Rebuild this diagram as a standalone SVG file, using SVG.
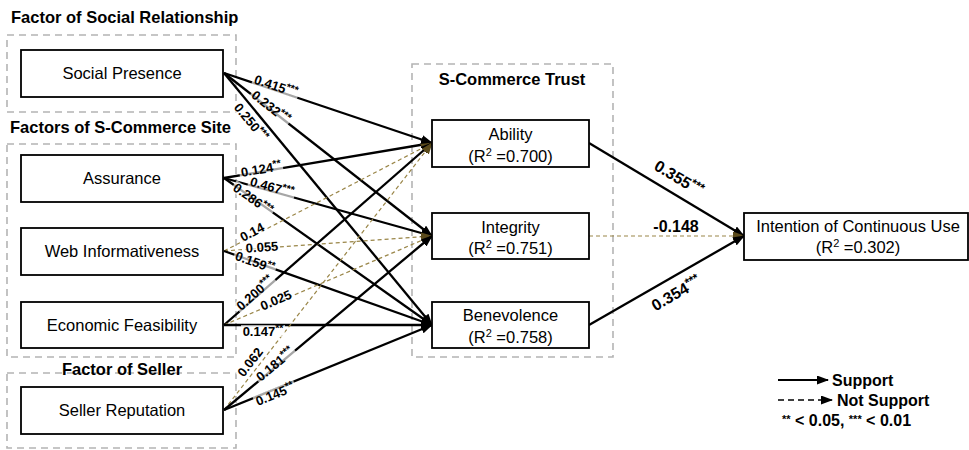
<svg xmlns="http://www.w3.org/2000/svg" width="969" height="450" viewBox="0 0 969 450">
<style>
text{font-family:"Liberation Sans",Arial,sans-serif;fill:#000}
.title{font-size:16.5px;font-weight:bold}
.node{fill:#fff;stroke:#000;stroke-width:1.8}
.nt{font-size:16.5px;text-anchor:middle}
.grp{fill:none;stroke:#b4b4b4;stroke-width:1.6;stroke-dasharray:7,5}
.sol{fill:none;stroke:#000;stroke-width:2.3;marker-end:url(#ah)}
.dsh{fill:none;stroke:#9a8648;stroke-width:1.2;stroke-dasharray:4,3;marker-end:url(#ahd)}
.lbl{font-size:13px;font-weight:bold;text-anchor:middle}
.st{font-size:10.5px}
.lbg{fill:#fff;fill-opacity:0.65}
.big{font-size:16px;font-weight:bold;text-anchor:middle}
.leg{font-size:16px;font-weight:bold}
</style>
<defs>
<marker id="ah" viewBox="0 0 12 9" refX="11" refY="4.5" markerWidth="12" markerHeight="9" markerUnits="userSpaceOnUse" orient="auto"><path d="M0,0 L12,4.5 L0,9 z" fill="#000"/></marker>
<marker id="ahd" viewBox="0 0 12 9" refX="11" refY="4.5" markerWidth="12" markerHeight="9" markerUnits="userSpaceOnUse" orient="auto"><path d="M0,0 L12,4.5 L0,9 z" fill="#5b4b1c"/></marker>
<marker id="ahs" viewBox="0 0 8 6" refX="0" refY="3" markerWidth="8" markerHeight="6" markerUnits="userSpaceOnUse" orient="auto-start-reverse"><path d="M0,0 L8,3 L0,6 z" fill="#000"/></marker>
</defs>
<rect width="969" height="450" fill="#fff"/>

<!-- group frames -->
<g id="groups">
<rect class="grp" x="7" y="35" width="229" height="77"/>
<rect class="grp" x="7" y="144" width="229" height="213"/>
<rect class="grp" x="7" y="373" width="229" height="75"/>
<rect class="grp" x="412" y="64" width="201" height="293"/>
<text class="title" x="11" y="23">Factor of Social Relationship</text>
<text class="title" x="10" y="133">Factors of S-Commerce Site</text>
<text class="title" x="122" y="375" text-anchor="middle">Factor of Seller</text>
<text class="title" x="512" y="85" text-anchor="middle">S-Commerce Trust</text>
</g>

<!-- connectors -->
<g id="connectors">
<path class="sol" d="M224,73 L432,143"/>
<path class="sol" d="M224,73 L432,236"/>
<path class="sol" d="M224,73 L432,325"/>
<path class="sol" d="M224,178 L432,143" style="marker-start:url(#ahs)"/>
<path class="sol" d="M224,178 L432,236"/>
<path class="sol" d="M224,178 L432,325"/>
<path class="dsh" d="M224,251 L432,143"/>
<path class="dsh" d="M224,251 L432,236"/>
<path class="sol" d="M224,251 L432,325"/>
<path class="sol" d="M224,325 L432,143"/>
<path class="dsh" d="M224,325 L432,236"/>
<path class="sol" d="M224,325 L432,325"/>
<path class="dsh" d="M224,410 L432,143"/>
<path class="sol" d="M224,410 L432,236"/>
<path class="sol" d="M224,410 L432,325"/>
<path class="sol" d="M589,143 L744,236"/>
<path class="dsh" d="M589,236 L744,236"/>
<path class="sol" d="M589,325 L744,236"/>
</g>

<!-- path labels -->
<g id="labels">
<g transform="translate(276,86) rotate(18.6)"><rect class="lbg" x="-24" y="-6" width="48" height="12"/><text class="lbl" y="4.6">0.415<tspan class="st" dy="-4">***</tspan></text></g>
<g transform="translate(271,107) rotate(38.1)"><rect class="lbg" x="-24" y="-6" width="48" height="12"/><text class="lbl" y="4.6">0.232<tspan class="st" dy="-4">***</tspan></text></g>
<g transform="translate(251,122) rotate(50.5)"><rect class="lbg" x="-24" y="-6" width="48" height="12"/><text class="lbl" y="4.6">0.250<tspan class="st" dy="-4">***</tspan></text></g>
<g transform="translate(261,169) rotate(-9.55)"><rect class="lbg" x="-22" y="-6" width="44" height="12"/><text class="lbl" y="4.6">0.124<tspan class="st" dy="-4">**</tspan></text></g>
<g transform="translate(272,187) rotate(15.6)"><rect class="lbg" x="-24" y="-6" width="48" height="12"/><text class="lbl" y="4.6">0.467<tspan class="st" dy="-4">***</tspan></text></g>
<g transform="translate(253,199) rotate(35.2)"><rect class="lbg" x="-24" y="-6" width="48" height="12"/><text class="lbl" y="4.6">0.286<tspan class="st" dy="-4">***</tspan></text></g>
<g transform="translate(252,232) rotate(-27.4)"><rect class="lbg" x="-14" y="-6" width="28" height="12"/><text class="lbl" y="4.6">0.14</text></g>
<g transform="translate(262,247) rotate(-4.1)"><rect class="lbg" x="-18" y="-6" width="36" height="12"/><text class="lbl" y="4.6">0.055</text></g>
<g transform="translate(255,262) rotate(19.6)"><rect class="lbg" x="-22" y="-6" width="44" height="12"/><text class="lbl" y="4.6">0.159<tspan class="st" dy="-4">**</tspan></text></g>
<g transform="translate(255,293) rotate(-41.2)"><rect class="lbg" x="-24" y="-6" width="48" height="12"/><text class="lbl" y="4.6">0.200<tspan class="st" dy="-4">***</tspan></text></g>
<g transform="translate(276,300) rotate(-23.2)"><rect class="lbg" x="-18" y="-6" width="36" height="12"/><text class="lbl" y="4.6">0.025</text></g>
<g transform="translate(263,331)"><rect class="lbg" x="-22" y="-6" width="44" height="12"/><text class="lbl" y="4.6">0.147<tspan class="st" dy="-4">**</tspan></text></g>
<g transform="translate(250,362) rotate(-52.1)"><rect class="lbg" x="-18" y="-6" width="36" height="12"/><text class="lbl" y="4.6">0.062</text></g>
<g transform="translate(275,364) rotate(-39.9)"><rect class="lbg" x="-24" y="-6" width="48" height="12"/><text class="lbl" y="4.6">0.181<tspan class="st" dy="-4">***</tspan></text></g>
<g transform="translate(275,394) rotate(-22.2)"><rect class="lbg" x="-22" y="-6" width="44" height="12"/><text class="lbl" y="4.6">0.145<tspan class="st" dy="-4">**</tspan></text></g>
<g transform="translate(679,178) rotate(31)"><text class="big" y="5.7">0.355<tspan font-size="12" dy="-5">***</tspan></text></g>
<text class="big" x="676" y="232">-0.148</text>
<g transform="translate(676,293) rotate(-29.9)"><text class="big" y="5.7">0.354<tspan font-size="12" dy="-5">***</tspan></text></g>
</g>

<!-- nodes -->
<g id="social-presence"><rect class="node" x="21" y="50" width="202" height="47"/><text class="nt" x="122" y="79">Social Presence</text></g>
<g id="assurance"><rect class="node" x="21" y="155" width="202" height="47"/><text class="nt" x="122" y="184">Assurance</text></g>
<g id="web-informativeness"><rect class="node" x="21" y="228" width="202" height="47"/><text class="nt" x="122" y="257">Web Informativeness</text></g>
<g id="economic-feasibility"><rect class="node" x="21" y="302" width="202" height="46"/><text class="nt" x="122" y="331">Economic Feasibility</text></g>
<g id="seller-reputation"><rect class="node" x="21" y="387" width="202" height="47"/><text class="nt" x="122" y="416">Seller Reputation</text></g>
<g id="ability"><rect class="node" x="432" y="120" width="157" height="47"/><text class="nt" x="510.5" y="140">Ability</text><text class="nt" x="510.5" y="162">(R<tspan font-size="11" dy="-6">2</tspan><tspan dy="6"> =0.700)</tspan></text></g>
<g id="integrity"><rect class="node" x="432" y="213" width="157" height="46"/><text class="nt" x="510.5" y="233">Integrity</text><text class="nt" x="510.5" y="254">(R<tspan font-size="11" dy="-6">2</tspan><tspan dy="6"> =0.751)</tspan></text></g>
<g id="benevolence"><rect class="node" x="432" y="302" width="157" height="46"/><text class="nt" x="510.5" y="321">Benevolence</text><text class="nt" x="510.5" y="343">(R<tspan font-size="11" dy="-6">2</tspan><tspan dy="6"> =0.758)</tspan></text></g>
<g id="intention"><rect class="node" x="744" y="213" width="224" height="47"/><text class="nt" x="858" y="232">Intention of Continuous Use</text><text class="nt" x="858" y="253">(R<tspan font-size="11" dy="-6">2</tspan><tspan dy="6"> =0.302)</tspan></text></g>

<!-- legend -->
<g id="legend">
<path d="M778,380 L828,380" fill="none" stroke="#000" stroke-width="2" marker-end="url(#ah)"/>
<path d="M778,400 L832,400" fill="none" stroke="#000" stroke-width="1.6" stroke-dasharray="6,4" marker-end="url(#ah)"/>
<text class="leg" x="832" y="386">Support</text>
<text class="leg" x="837" y="406">Not Support</text>
<text class="leg" x="782" y="426"><tspan font-size="11" dy="-3">**</tspan><tspan dy="3"> &lt; 0.05, </tspan><tspan font-size="11" dy="-3">***</tspan><tspan dy="3"> &lt; 0.01</tspan></text>
</g>
</svg>
